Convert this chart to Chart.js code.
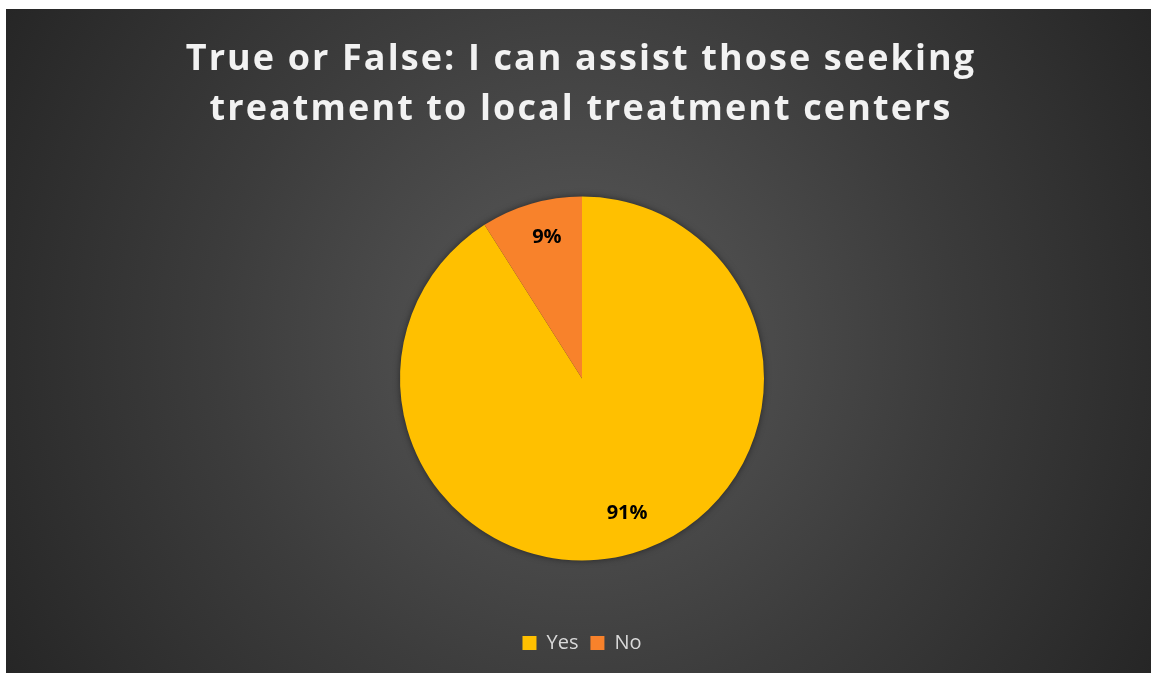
<!DOCTYPE html>
<html>
<head>
<meta charset="utf-8">
<script src="https://cdn.jsdelivr.net/npm/chart.js@4/dist/chart.umd.min.js"></script>
<style>
  html, body { margin: 0; padding: 0; background: #ffffff; width: 1152px; height: 677px; overflow: hidden; }
  #wrap {
    position: absolute; left: 6px; top: 9px; width: 1145px; height: 664px;
    background: radial-gradient(circle farthest-corner at 50% 50%, #5a5a5a 0%, #3c3c3c 55%, #262626 100%);
  }
  canvas { display: block; }
</style>
</head>
<body>
<div id="wrap"><canvas id="c" width="1145" height="664"></canvas></div>
<script>
const titleLines = ['True or False: I can assist those seeking', 'treatment to local treatment centers'];
const categories = ['Yes', 'No'];
const values = [91, 9];
const sliceColors = ['#FFC000', '#F8822B'];

const pieShadow = {
  id: 'pieShadow',
  beforeDatasetsDraw(chart) {
    const arc = chart.getDatasetMeta(0).data[0];
    if (!arc) return;
    const ctx = chart.ctx;
    ctx.save();
    ctx.shadowColor = 'rgba(0,0,0,0.55)';
    ctx.shadowBlur = 7;
    ctx.fillStyle = '#303030';
    ctx.beginPath();
    ctx.arc(arc.x, arc.y, arc.outerRadius - 0.5, 0, Math.PI * 2);
    ctx.fill();
    ctx.restore();
  }
};

const sliceLabels = {
  id: 'sliceLabels',
  afterDatasetsDraw(chart) {
    const ctx = chart.ctx;
    const meta = chart.getDatasetMeta(0);
    ctx.save();
    ctx.font = 'bold 20px "Open Sans"';
    ctx.fillStyle = '#000000';
    ctx.textAlign = 'center';
    ctx.textBaseline = 'middle';
    meta.data.forEach((arc, i) => {
      const mid = (arc.startAngle + arc.endAngle) / 2;
      const r = arc.outerRadius * 0.79;
      ctx.fillText(values[i] + '%', arc.x + Math.cos(mid) * r + 5, arc.y + Math.sin(mid) * r - 3);
    });
    ctx.restore();
  }
};

const titleDraw = {
  id: 'titleDraw',
  afterDraw(chart) {
    const ctx = chart.ctx;
    ctx.save();
    ctx.font = 'bold 36px "Open Sans"';
    ctx.letterSpacing = '2.1px';
    ctx.fillStyle = '#f2f2f2';
    ctx.textAlign = 'center';
    ctx.textBaseline = 'alphabetic';
    const baselines = [60.5, 111];
    titleLines.forEach((t, i) => ctx.fillText(t, 575, baselines[i]));
    ctx.restore();
  }
};

new Chart(document.getElementById('c'), {
  type: 'pie',
  data: {
    labels: categories,
    datasets: [{
      data: values,
      backgroundColor: sliceColors,
      borderWidth: 0
    }]
  },
  options: {
    responsive: false,
    animation: false,
    layout: { padding: { top: 127, bottom: 10, left: 394, right: 387 } },
    plugins: {
      title: { display: false },
      tooltip: { enabled: false },
      legend: {
        display: true,
        position: 'bottom',
        labels: {
          color: '#d9d9d9',
          font: { family: '"Open Sans"', size: 20 },
          boxWidth: 14,
          boxHeight: 14,
          padding: 12
        }
      }
    }
  },
  plugins: [pieShadow, sliceLabels, titleDraw]
});
</script>
</body>
</html>
